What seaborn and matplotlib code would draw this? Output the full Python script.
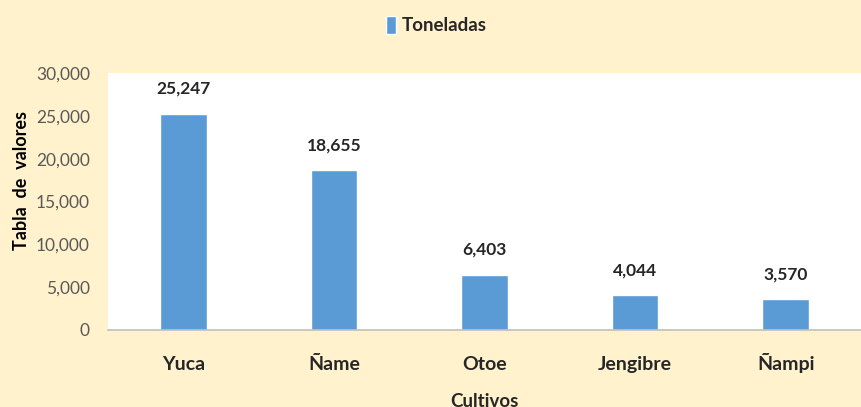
import pandas as pd
import matplotlib.pyplot as plt
import seaborn as sns

# Data
cultivos = ['Yuca', 'Ñame', 'Otoe', 'Jengibre', 'Ñampi']
toneladas = [25247, 18655, 6403, 4044, 3570]

df = pd.DataFrame({'Cultivos': cultivos, 'Toneladas': toneladas})

sns.set_style('white')
plt.rcParams['font.family'] = ['Lato', 'DejaVu Sans']

bar_color = '#5B9BD5'
cream = '#FFF2CC'

fig = plt.figure(figsize=(8.61, 4.07), dpi=100, facecolor=cream)
ax = fig.add_axes([108 / 861, 1 - 330 / 407, 753 / 861, 257 / 407])
ax.set_facecolor('white')

sns.barplot(data=df, x='Cultivos', y='Toneladas', color=bar_color,
            saturation=1, width=0.31, ax=ax, label='Toneladas')

for i, v in enumerate(toneladas):
    ax.text(i, v + 2000, f'{v:,}', ha='center', va='bottom',
            fontsize=12.5, fontweight='bold', color='#262626')

ax.set_ylim(0, 30000)
ax.set_yticks(range(0, 30001, 5000))
ax.set_yticklabels([f'{t:,}' for t in range(0, 30001, 5000)],
                   fontsize=12.5, color='#595959')
ax.tick_params(axis='y', length=0, pad=13)
ax.tick_params(axis='x', length=0, pad=29, labelsize=14)
for lbl in ax.get_xticklabels():
    lbl.set_fontweight('bold')
    lbl.set_color('#262626')
    lbl.set_va('baseline')

for s in ['top', 'right', 'left']:
    ax.spines[s].set_visible(False)
ax.spines['bottom'].set_color('#BFBFBF')
ax.spines['bottom'].set_linewidth(1.2)

ax.set_ylabel('')
fig.text(22 / 861, 1 - 180 / 407, 'Tabla  de  valores', rotation=90,
         ha='center', va='center', fontsize=13, fontweight='bold', color='black')
ax.set_xlabel('Cultivos', fontsize=13.5, fontweight='bold',
              color='#262626', labelpad=14)

leg = ax.legend(loc='center', bbox_to_anchor=(0.5 - 0.5 * (108 / 753) + 0.008, 1 + 48 / 257),
                frameon=False, fontsize=13.5, handlelength=0.55, handleheight=1.1,
                handletextpad=0.3)
for t in leg.get_texts():
    t.set_fontweight('bold')
    t.set_color('#262626')

fig.savefig('out.png', dpi=100, facecolor=cream)
